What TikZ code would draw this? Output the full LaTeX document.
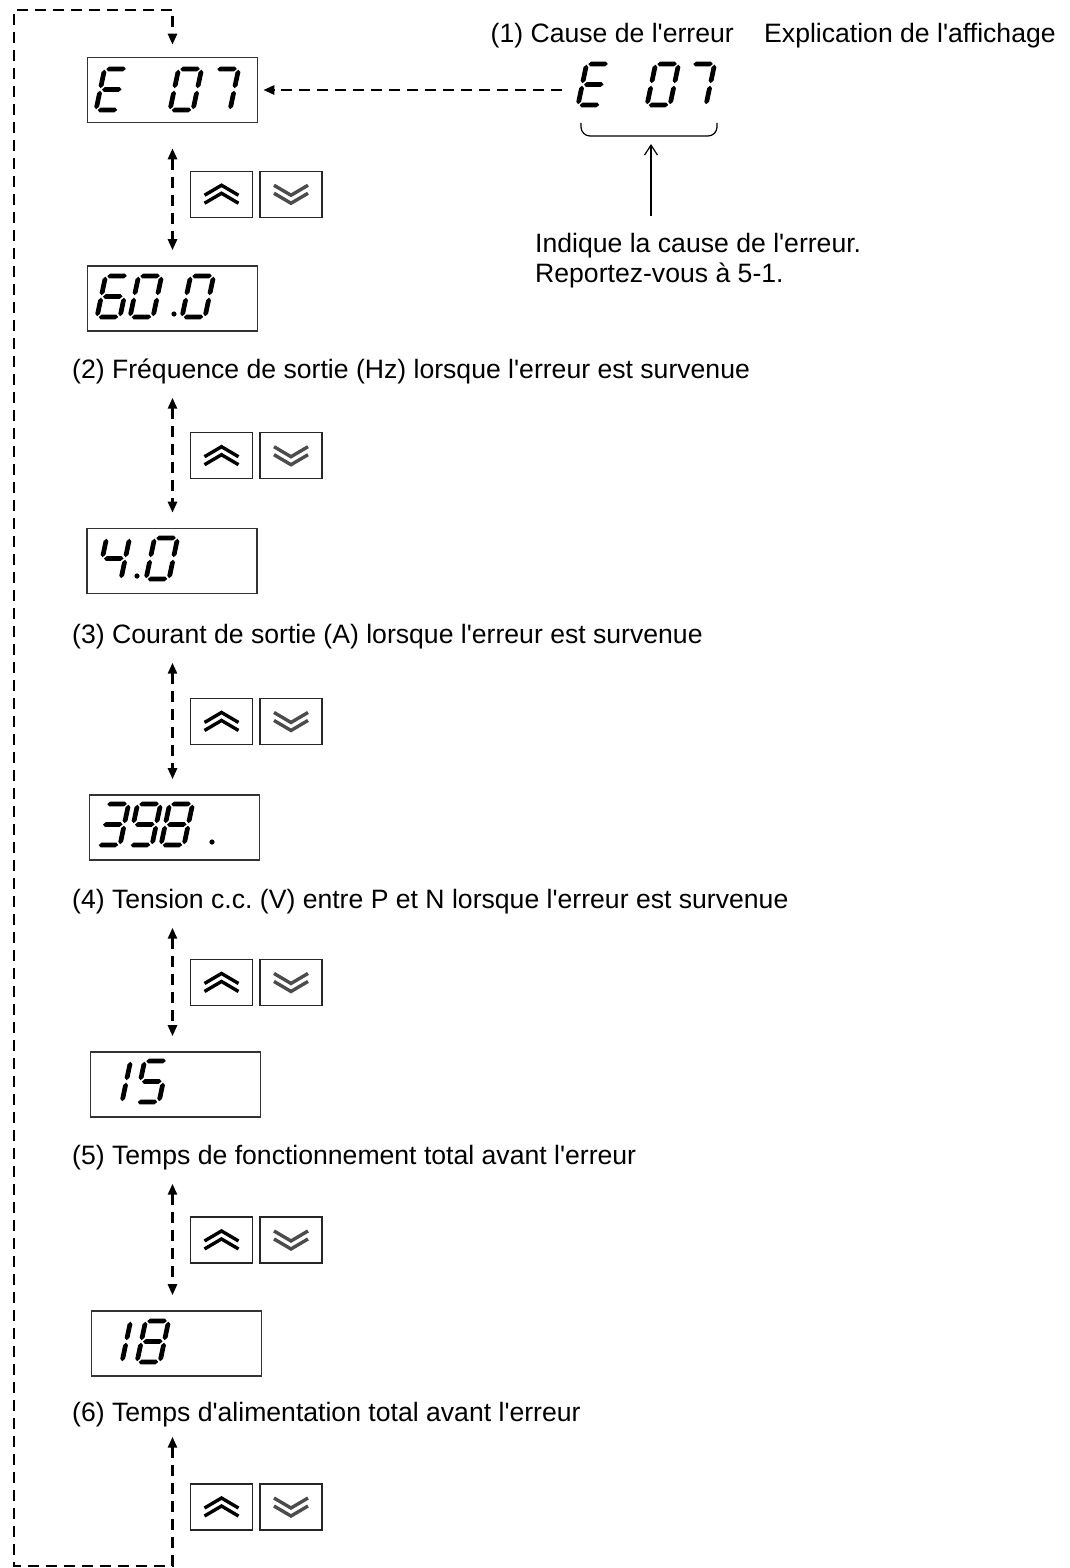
\documentclass[tikz,border=0pt]{standalone}
\usepackage{fontspec}
\setmainfont{Liberation Sans}[Ligatures=TeXOff]
\usetikzlibrary{positioning,arrows.meta,calc}
\frenchspacing

% seven segment pieces (local units, y pointing down)
\newcommand{\hseg}[2]{\fill (#1,#2) -- ++(2.4,-2.4) -- ++(14.7,0) -- ++(2.4,2.4) -- ++(-2.4,2.4) -- ++(-14.7,0) -- cycle;}
\newcommand{\vseg}[2]{\fill (#1,#2) -- ++(2.4,-2.4) -- ++(0,-13.7) -- ++(-2.4,-2.4) -- ++(-2.4,2.4) -- ++(0,13.7) -- cycle;}
\newcommand{\dsega}{\hseg{1.7}{-41}}
\newcommand{\dsegb}{\vseg{23}{-21.8}}
\newcommand{\dsegc}{\vseg{23}{-0.8}}
\newcommand{\dsegd}{\hseg{1.7}{0}}
\newcommand{\dsege}{\vseg{0}{-0.8}}
\newcommand{\dsegf}{\vseg{0}{-21.8}}
\newcommand{\dsegg}{\hseg{1.7}{-20.5}}
\newcommand{\digit}[3]{\begin{scope}[shift={(#1,#2)},xslant=0.21]
  \foreach \s in {#3} {\csname dseg\s\endcsname}\end{scope}}

\begin{document}
\begin{tikzpicture}[x=1pt,y=-1pt,
  font=\fontsize{26.6}{32}\selectfont,
  >={Triangle[length=11pt,width=9pt]},
  dashy/.style={line width=2.6pt,dash pattern=on 11pt off 7pt},
  disp/.style={draw=black!80,line width=1.6pt,minimum width=170pt,minimum height=65pt,inner sep=0pt},
  btn/.style={draw=black!85,line width=1.5pt,minimum width=62pt,minimum height=46pt,inner sep=0pt},
  chev/.style={line width=3.4pt},
  lbl/.style={inner sep=0pt,anchor=base west}]
  \useasboundingbox (0,0) rectangle (1069,1568);

  % displays
  \node[disp] (d1) at (172.5,90)    {};
  \node[disp] (d2) at (172.5,298.5) {};
  \node[disp] (d3) at (172,561)     {};
  \node[disp] (d4) at (174.5,827.5) {};
  \node[disp] (d5) at (175.5,1084.5){};
  \node[disp] (d6) at (176.5,1343.5){};

  % texts
  \node[lbl,anchor=base east] (cause) at (734,43) {(1) Cause de l'erreur};
  \node[lbl] (expl)  at (764,43)   {Explication de l'affichage};
  \node[lbl] (note1) at (535,252)  {Indique la cause de l'erreur.};
  \node[lbl] (note2) at (535,282)  {Reportez-vous à 5-1.};
  \node[lbl] (lab2)  at (72,378)   {(2) Fréquence de sortie (Hz) lorsque l'erreur est survenue};
  \node[lbl] (lab3)  at (72,643)   {(3) Courant de sortie (A) lorsque l'erreur est survenue};
  \node[lbl] (lab4)  at (72,908)   {(4) Tension c.c. (V) entre P et N lorsque l'erreur est survenue};
  \node[lbl] (lab5)  at (72,1164)  {(5) Temps de fonctionnement total avant l'erreur};
  \node[lbl] (lab6)  at (72,1421)  {(6) Temps d'alimentation total avant l'erreur};

  % digits
  \digit{96}{110}{a,d,e,f,g}
  \digit{170}{110}{a,b,c,d,e,f}
  \digit{207}{110}{a,b,c}
  \digit{578}{105}{a,d,e,f,g}
  \digit{647}{105}{a,b,c,d,e,f}
  \digit{683}{105}{a,b,c}
  \digit{97}{317}{a,c,d,e,f,g}
  \digit{130}{317}{a,b,c,d,e,f}
  \fill (174,314) circle (2.6);
  \digit{182}{317}{a,b,c,d,e,f}
  \digit{98}{579}{b,c,f,g}
  \fill (137,576) circle (2.6);
  \digit{146}{579}{a,b,c,d,e,f}
  \digit{97}{845}{a,b,c,d,g}
  \digit{129}{845}{a,b,c,d,f,g}
  \digit{161}{845}{a,b,c,d,e,f,g}
  \fill (212,842) circle (2.6);
  \digit{99}{1102}{b,c}
  \digit{136}{1102}{a,c,d,f,g}
  \digit{99}{1362}{b,c}
  \digit{137}{1362}{a,b,c,d,e,f,g}

  % brace and note arrow
  \draw[line width=1.2pt,rounded corners=9pt] (581,123) |- (717,136) -- (717,123);
  \coordinate (tail) at (651,216);
  \coordinate (tip)  at (651,144);
  \draw[line width=1.2pt,-{Straight Barb[length=10pt,width=13pt]}] (tail) -- (tip);

  % dashed arrows and keys
  \coordinate (src) at (562,90);
  \draw[dashy,->,shorten >=5pt] (src) -- (d1.east);
  \foreach \a/\b/\s/\i in {d1/d2/25pt/1,lab2/d3/14pt/2,lab3/d4/14pt/3,lab4/d5/14pt/4,lab5/d6/14pt/5}{
    \draw[dashy,<->,shorten <=\s,shorten >=15pt] (\a.south -| d1.north) -- (\b.north -| d1.north);
    \node[btn] (up\i) at ($(\a.south -| d1.north)!0.5!(\b.north -| d1.north)+(49,0)$) {};
    \node[btn,right=6pt of up\i] (dn\i) {};
  }
  \node[btn] (up6) at (221.5,1507) {};
  \node[btn,right=6pt of up6] (dn6) {};
  \foreach \i in {1,...,6}{
    \draw[chev,shift={(up\i.center)}] (-17,1) -- (0,-9) -- (17,1) (-17,9) -- (0,-1) -- (17,9);
    \draw[chev,black!70,shift={(dn\i.center)}] (-17,-9) -- (0,1) -- (17,-9) (-17,-1) -- (0,9) -- (17,-1);
  }

  % return loop
  \coordinate (loopSE) at (172.5,1566);
  \coordinate (loopNW) at (14,10);
  \draw[dashy,<->,shorten <=10pt,shorten >=12pt] (lab6.south -| loopSE) -- (loopSE) -| (loopNW) -| (d1.north);
\end{tikzpicture}
\end{document}
